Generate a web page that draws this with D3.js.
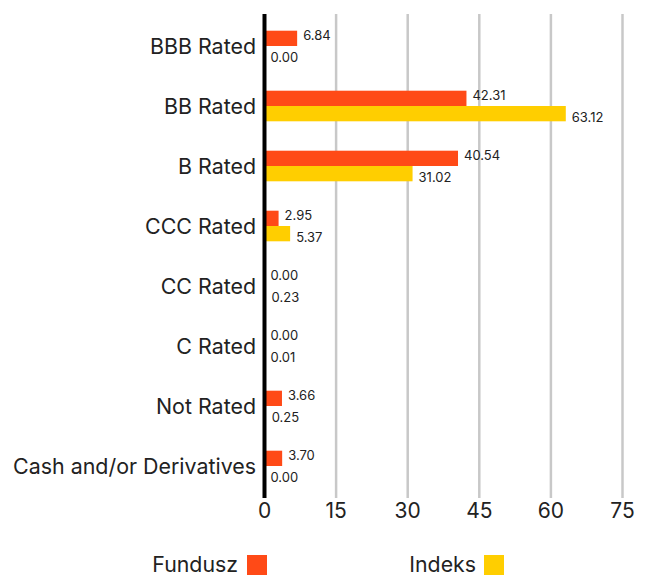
<!DOCTYPE html>
<html><head><meta charset="utf-8">
<script src="https://cdn.jsdelivr.net/npm/d3@7"></script>
<style>body{margin:0;background:#fff}svg{display:block}</style>
</head><body>
<svg id="c" width="651" height="579"></svg>
<script>
const categories = ["BBB Rated","BB Rated","B Rated","CCC Rated","CC Rated","C Rated","Not Rated","Cash and/or Derivatives"];
const fundusz = [6.84,42.31,40.54,2.95,0.00,0.00,3.66,3.70];
const indeks = [0.00,63.12,31.02,5.37,0.23,0.01,0.25,0.00];
const ticks = [0,15,30,45,60,75];
const seriesNames = ["Fundusz","Indeks"];
const colors = ["#FF4A17","#FFCE00"];

const svg = d3.select("#c");
const font = "Inter, 'Open Sans', sans-serif";
const x = d3.scaleLinear().domain([0,75]).range([264.5,622.5]);
const y = d3.scaleBand().domain(categories).range([16,496]).paddingInner(0.49).paddingOuter(0.245);
const ys = d3.scaleBand().domain(seriesNames).range([0,y.bandwidth()]);

// grid
svg.append("g").selectAll("line").data(ticks.slice(1)).join("line")
  .attr("x1",d=>x(d)).attr("x2",d=>x(d)).attr("y1",14).attr("y2",498)
  .attr("stroke","#c8c8c8").attr("stroke-width",2.5);

// bars
const g = svg.append("g");
categories.forEach((c,i)=>{
  [fundusz[i],indeks[i]].forEach((v,k)=>{
    const yy = y(c)+ys(seriesNames[k]);
    g.append("rect").attr("x",x(0)).attr("y",yy).attr("width",x(v)-x(0)).attr("height",ys.bandwidth())
      .attr("fill",colors[k]);
    g.append("text").attr("x",x(v)+6).attr("y",yy+ys.bandwidth()/2 + (k===0?-2:5))
      .attr("dominant-baseline","middle").attr("font-family",font).attr("font-size",13)
      .attr("fill","#222").text(v.toFixed(2));
  });
});

// y axis line
svg.append("line").attr("x1",x(0)).attr("x2",x(0)).attr("y1",14).attr("y2",498)
  .attr("stroke","#000").attr("stroke-width",4);

// y labels
svg.append("g").selectAll("text").data(categories).join("text")
  .attr("x",256).attr("y",d=>y(d)+y.bandwidth()/2+2).attr("text-anchor","end")
  .attr("dominant-baseline","middle").attr("font-family",font).attr("font-size",21.4)
  .attr("fill","#222").text(d=>d);

// x tick labels
svg.append("g").selectAll("text").data(ticks).join("text")
  .attr("x",d=>x(d)).attr("y",512).attr("text-anchor","middle")
  .attr("dominant-baseline","middle").attr("font-family",font).attr("font-size",21)
  .attr("fill","#222").text(d=>d);

// legend
const leg = [{n:"Fundusz",tx:238,sq:247},{n:"Indeks",tx:476,sq:484}];
leg.forEach((l,k)=>{
  svg.append("text").attr("x",l.tx).attr("y",566).attr("text-anchor","end")
    .attr("dominant-baseline","middle").attr("font-family",font).attr("font-size",21.3)
    .attr("fill","#222").text(l.n);
  svg.append("rect").attr("x",l.sq).attr("y",555).attr("width",20).attr("height",20).attr("fill",colors[k]);
});
</script>
</body></html>
